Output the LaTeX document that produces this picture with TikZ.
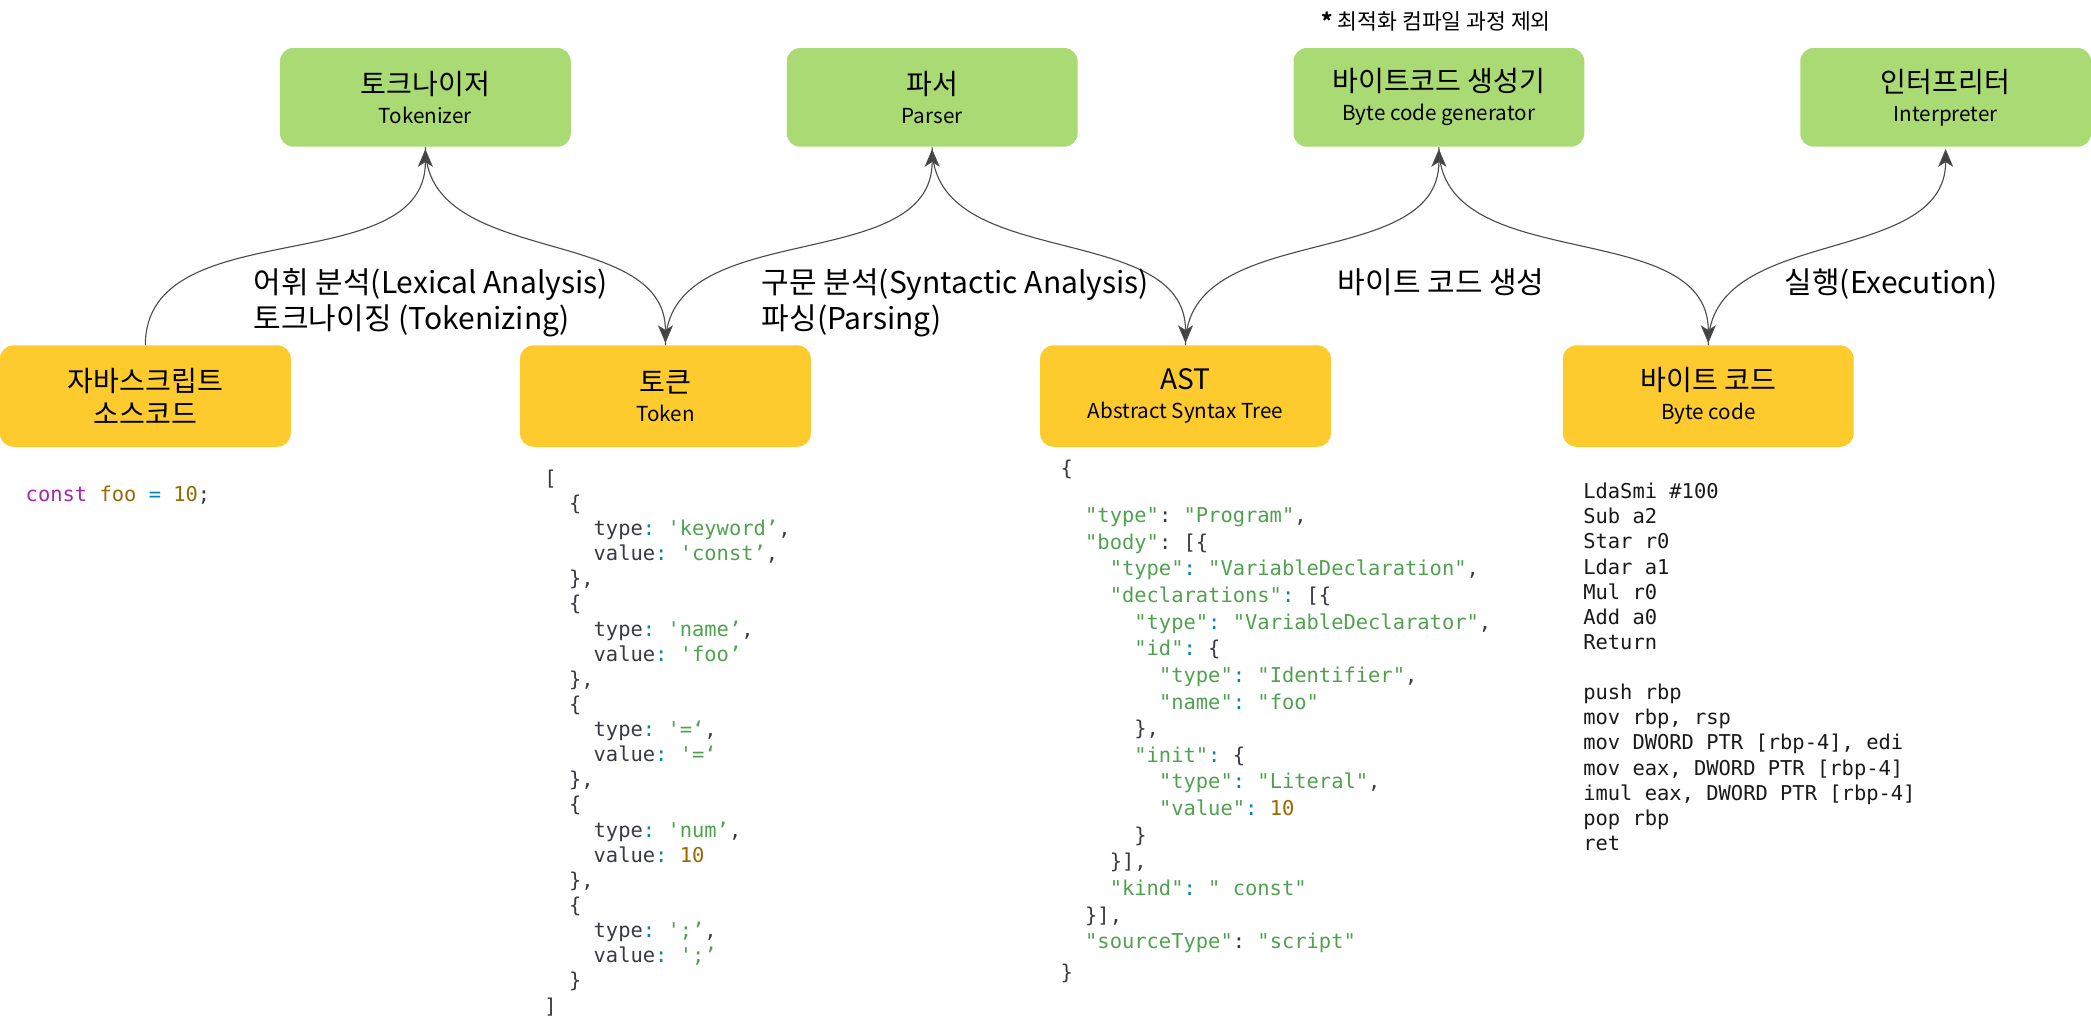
\documentclass[tikz,border=0pt]{standalone}
\usepackage{fontspec}
\setmainfont{Noto Sans CJK KR}
\setmonofont{DejaVu Sans Mono}
\usetikzlibrary{arrows.meta}

\definecolor{stagegreen}{HTML}{A9DA74}
\definecolor{datayellow}{HTML}{FECB2F}
\definecolor{codetext}{HTML}{383A42}
\definecolor{codestr}{HTML}{50A14F}
\definecolor{codecolon}{HTML}{0184BC}
\definecolor{codenum}{HTML}{986801}
\definecolor{codekw}{HTML}{A626A4}

\newcommand{\ind}[1]{\hspace*{#1\fontcharwd\font`0}}
\newcommand{\cstr}[1]{\textcolor{codestr}{#1}}
\newcommand{\cnum}[1]{\textcolor{codenum}{#1}}
\newcommand{\cln}{\textcolor{codecolon}{:}}
\newcommand{\boxlabel}[2]{{\fontsize{15}{15.5}\selectfont #1}\\{\fontsize{11}{15.5}\selectfont #2}}

\tikzset{
  stage/.style={fill=stagegreen, rounded corners=0.25cm, minimum width=5.45cm, minimum height=1.85cm, align=center, inner sep=0pt, font=\fontsize{11}{15.5}\selectfont},
  data/.style={fill=datayellow, rounded corners=0.25cm, minimum width=5.45cm, minimum height=1.9cm, align=center, inner sep=0pt, font=\fontsize{11}{15.5}\selectfont},
  flow/.style={draw=black!70, line width=0.6pt, shorten >=1pt, -{Stealth[length=9.5pt,width=8pt,inset=2.5pt,fill=black!75]}},
  code/.style={anchor=north west, align=left, inner sep=0pt, text=codetext, font=\ttfamily\fontsize{10.9}{14.2}\selectfont},
  steplabel/.style={anchor=north west, align=left, inner sep=0pt, font=\fontsize{16}{19.2}\selectfont}
}

\begin{document}
\begin{tikzpicture}[x=0.025cm, y=-0.025cm]
  \useasboundingbox (0,0) rectangle (1568,772);

  %%%%% stages %%%%%
  \node[stage] (tokenizer) at (319,73) {\boxlabel{토크나이저}{Tokenizer}};
  \node[stage] (parser) at (699,73) {\boxlabel{파서}{Parser}};
  \node[stage] (bcgen) at (1079,73) {\boxlabel{바이트코드 생성기}{Byte code generator}};
  \node[stage] (interp) at (1459,73) {\boxlabel{인터프리터}{Interpreter}};
  \node[font=\fontsize{11.5}{13}\selectfont] (note) at (1077,16) {\textbf{*} 최적화 컴파일 과정 제외};

  %%%%% data %%%%%
  \node[data, font=\fontsize{15}{17.8}\selectfont] (js) at (109,297) {자바스크립트\\소스코드};
  \node[data] (token) at (499,297) {\boxlabel{토큰}{Token}};
  \node[data] (ast) at (889,297) {\boxlabel{AST}{Abstract Syntax Tree}};
  \node[data] (bytecode) at (1281,297) {\boxlabel{바이트 코드}{Byte code}};

  %%%%% flow %%%%%
  \draw[flow] (js.north) to[out=90, in=-90] (tokenizer.south);
  \draw[flow] (tokenizer.south) to[out=-90, in=90] (token.north);
  \draw[flow] (token.north) to[out=90, in=-90] (parser.south);
  \draw[flow] (parser.south) to[out=-90, in=90] (ast.north);
  \draw[flow] (ast.north) to[out=90, in=-90] (bcgen.south);
  \draw[flow] (bcgen.south) to[out=-90, in=90] (bytecode.north);
  \draw[flow] (bytecode.north) to[out=90, in=-90] (interp.south);

  \node[steplabel] (lexlabel) at (190,201) {어휘 분석(Lexical Analysis)\\토크나이징 (Tokenizing)};
  \node[steplabel] (synlabel) at (571,201) {구문 분석(Syntactic Analysis)\\파싱(Parsing)};
  \node[steplabel] (genlabel) at (1003,201) {바이트 코드 생성};
  \node[steplabel] (execlabel) at (1338,201) {실행(Execution)};

  %%%%% code %%%%%
  \node[code] (jscode) at (19,364) {\textcolor{codekw}{const} \cnum{foo} \textcolor{codecolon}{=} \cnum{10};};

  \node[code, font=\ttfamily\fontsize{10.9}{13.4}\selectfont] (tokencode) at (408,352) {%
    [\\
    \ind{2}\{\\
    \ind{4}type\cln{} \cstr{'keyword’},\\
    \ind{4}value\cln{} \cstr{'const’},\\
    \ind{2}\},\\
    \ind{2}\{\\
    \ind{4}type\cln{} \cstr{'name’},\\
    \ind{4}value\cln{} \cstr{'foo’}\\
    \ind{2}\},\\
    \ind{2}\{\\
    \ind{4}type\cln{} \cstr{'=‘},\\
    \ind{4}value\cln{} \cstr{'=‘}\\
    \ind{2}\},\\
    \ind{2}\{\\
    \ind{4}type\cln{} \cstr{'num’},\\
    \ind{4}value\cln{} \cnum{10}\\
    \ind{2}\},\\
    \ind{2}\{\\
    \ind{4}type\cln{} \cstr{';’},\\
    \ind{4}value\cln{} \cstr{';’}\\
    \ind{2}\}\\
    ]};

  \node[code] (astcode) at (795,345) {%
    \{\\[10.7pt]
    \ind{2}\cstr{"type"}: \cstr{"Program"},\\
    \ind{2}\cstr{"body"}: [\{\\
    \ind{4}\cstr{"type"}\cln{} \cstr{"VariableDeclaration"},\\
    \ind{4}\cstr{"declarations"}\cln{} [\{\\
    \ind{6}\cstr{"type"}\cln{} \cstr{"VariableDeclarator"},\\
    \ind{6}\cstr{"id"}\cln{} \{\\
    \ind{8}\cstr{"type"}\cln{} \cstr{"Identifier"},\\
    \ind{8}\cstr{"name"}\cln{} \cstr{"foo"}\\
    \ind{6}\},\\
    \ind{6}\cstr{"init"}\cln{} \{\\
    \ind{8}\cstr{"type"}\cln{} \cstr{"Literal"},\\
    \ind{8}\cstr{"value"}\cln{} \cnum{10}\\
    \ind{6}\}\\
    \ind{4}\}],\\
    \ind{4}\cstr{"kind"}\cln{} \cstr{" const"}\\
    \ind{2}\}],\\
    \ind{2}\cstr{"sourceType"}: \cstr{"script"}\\[2pt]
    \}};

  \node[code, text=black!90, font=\ttfamily\fontsize{10.9}{13.4}\selectfont] (bccode) at (1187,362) {%
    LdaSmi \#100\\
    Sub a2\\
    Star r0\\
    Ldar a1\\
    Mul r0\\
    Add a0\\
    Return\\[13.4pt]
    push rbp\\
    mov rbp, rsp\\
    mov DWORD PTR [rbp-4], edi\\
    mov eax, DWORD PTR [rbp-4]\\
    imul eax, DWORD PTR [rbp-4]\\
    pop rbp\\
    ret};
\end{tikzpicture}
\end{document}
